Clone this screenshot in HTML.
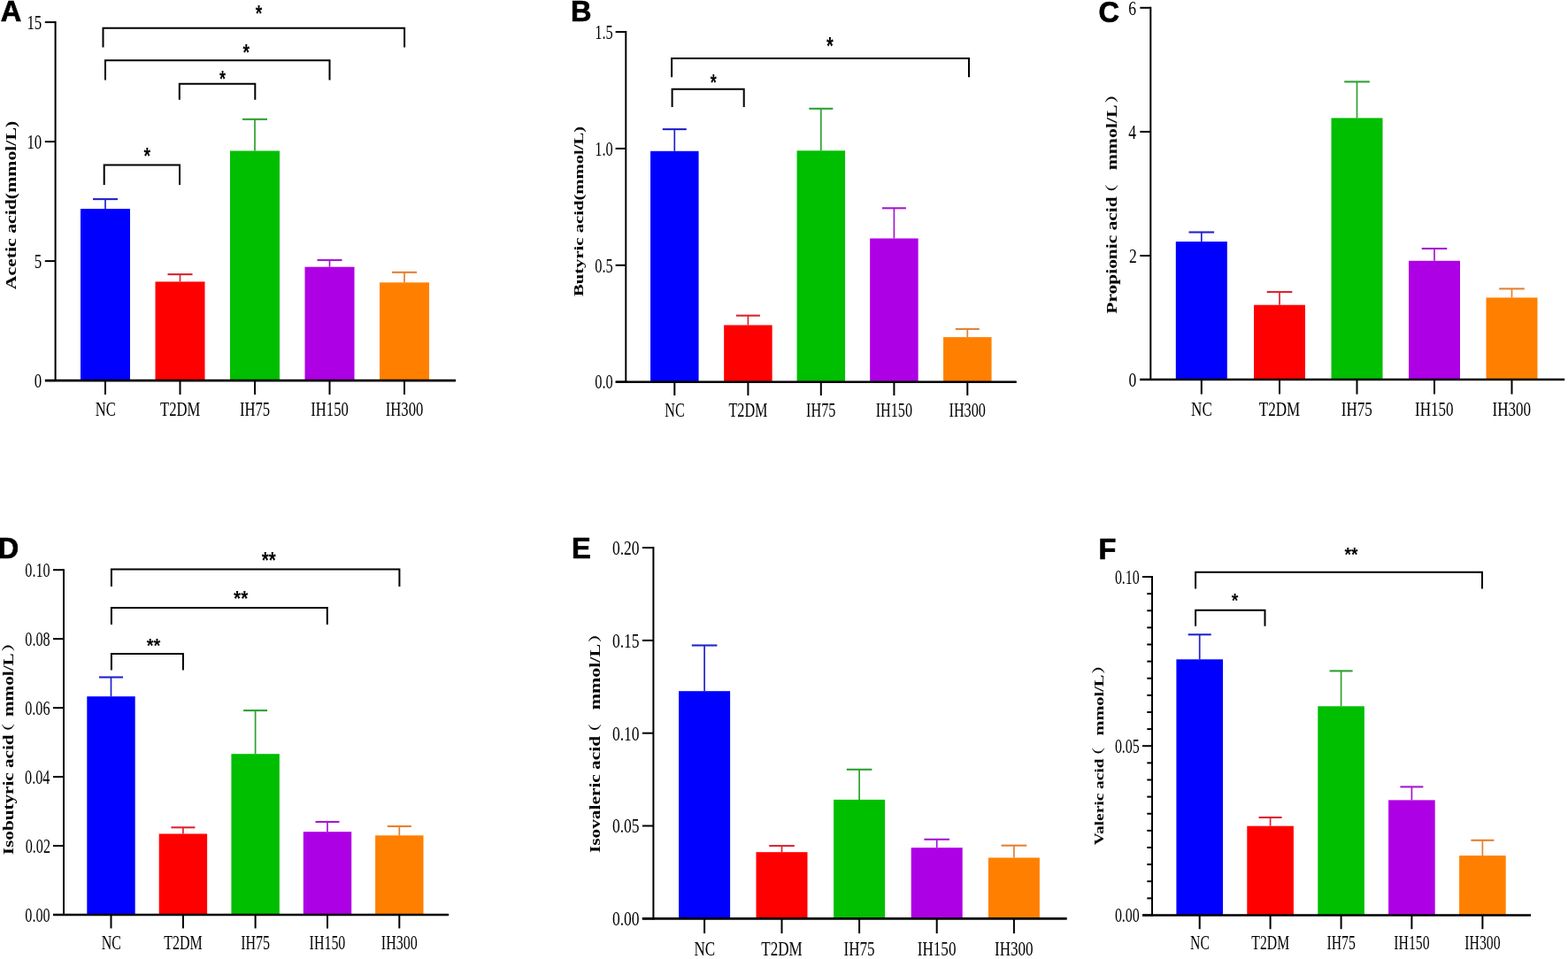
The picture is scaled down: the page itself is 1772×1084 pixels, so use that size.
<!DOCTYPE html>
<html><head><meta charset="utf-8"><title>SCFA bar charts</title>
<style>html,body{margin:0;padding:0;background:#fff;}svg{display:block;}</style></head>
<body><svg width="1772" height="1084" viewBox="0 0 1772 1084" fill="#000">
<rect width="1772" height="1084" fill="#fff"/>
<line x1="62.6" y1="24.1" x2="62.6" y2="431.1" stroke="#000" stroke-width="2" stroke-linecap="butt"/>
<line x1="50.8" y1="25.1" x2="62.6" y2="25.1" stroke="#000" stroke-width="2" stroke-linecap="butt"/>
<line x1="50.8" y1="160.1" x2="62.6" y2="160.1" stroke="#000" stroke-width="2" stroke-linecap="butt"/>
<line x1="50.8" y1="295.1" x2="62.6" y2="295.1" stroke="#000" stroke-width="2" stroke-linecap="butt"/>
<line x1="50.8" y1="430.1" x2="62.6" y2="430.1" stroke="#000" stroke-width="2" stroke-linecap="butt"/>
<rect x="91" y="236" width="56" height="194.1" fill="#0000FF"/>
<line x1="119" y1="225.1" x2="119" y2="236" stroke="#2222CC" stroke-width="1.7" stroke-linecap="butt"/>
<line x1="105" y1="225.1" x2="133" y2="225.1" stroke="#2222CC" stroke-width="2.1" stroke-linecap="butt"/>
<rect x="175.5" y="318.4" width="56" height="111.7" fill="#FF0000"/>
<line x1="203.5" y1="310.1" x2="203.5" y2="318.4" stroke="#DC2430" stroke-width="1.7" stroke-linecap="butt"/>
<line x1="189.5" y1="310.1" x2="217.5" y2="310.1" stroke="#DC2430" stroke-width="2.1" stroke-linecap="butt"/>
<rect x="260" y="170.5" width="56" height="259.6" fill="#00BE00"/>
<line x1="288" y1="134.8" x2="288" y2="170.5" stroke="#2EA032" stroke-width="1.7" stroke-linecap="butt"/>
<line x1="274" y1="134.8" x2="302" y2="134.8" stroke="#2EA032" stroke-width="2.1" stroke-linecap="butt"/>
<rect x="344.5" y="301.7" width="56" height="128.4" fill="#AE00E4"/>
<line x1="372.5" y1="294" x2="372.5" y2="301.7" stroke="#A418D0" stroke-width="1.7" stroke-linecap="butt"/>
<line x1="358.5" y1="294" x2="386.5" y2="294" stroke="#A418D0" stroke-width="2.1" stroke-linecap="butt"/>
<rect x="429" y="319.3" width="56" height="110.8" fill="#FF8000"/>
<line x1="457" y1="307.8" x2="457" y2="319.3" stroke="#E48030" stroke-width="1.7" stroke-linecap="butt"/>
<line x1="443" y1="307.8" x2="471" y2="307.8" stroke="#E48030" stroke-width="2.1" stroke-linecap="butt"/>
<line x1="51" y1="430.1" x2="515" y2="430.1" stroke="#000" stroke-width="2.6" stroke-linecap="butt"/>
<line x1="119" y1="430.1" x2="119" y2="446" stroke="#000" stroke-width="2" stroke-linecap="butt"/>
<line x1="203.5" y1="430.1" x2="203.5" y2="446" stroke="#000" stroke-width="2" stroke-linecap="butt"/>
<line x1="288" y1="430.1" x2="288" y2="446" stroke="#000" stroke-width="2" stroke-linecap="butt"/>
<line x1="372.5" y1="430.1" x2="372.5" y2="446" stroke="#000" stroke-width="2" stroke-linecap="butt"/>
<line x1="457" y1="430.1" x2="457" y2="446" stroke="#000" stroke-width="2" stroke-linecap="butt"/>
<path d="M116.5 53.4V31.7H457.1V53.4" fill="none" stroke="#000" stroke-width="2"/>
<path d="M119 90.4V68.3H372.5V90.4" fill="none" stroke="#000" stroke-width="2"/>
<path d="M202.8 112.7V94.7H288.3V112.7" fill="none" stroke="#000" stroke-width="2"/>
<path d="M117.7 208.9V186.6H203V208.9" fill="none" stroke="#000" stroke-width="2"/>
<text transform="translate(30.38,33.11) scale(0.75,1)" font-family="&quot;Liberation Serif&quot;, &quot;Noto Serif CJK SC&quot;, serif" font-size="22.5">15</text>
<text transform="translate(30.38,168) scale(0.75,1)" font-family="&quot;Liberation Serif&quot;, &quot;Noto Serif CJK SC&quot;, serif" font-size="22.5">10</text>
<text transform="translate(38.83,303) scale(0.75,1)" font-family="&quot;Liberation Serif&quot;, &quot;Noto Serif CJK SC&quot;, serif" font-size="22.5">5</text>
<text transform="translate(38.83,437.89) scale(0.75,1)" font-family="&quot;Liberation Serif&quot;, &quot;Noto Serif CJK SC&quot;, serif" font-size="22.5">0</text>
<text transform="translate(107.73,470) scale(0.74,1)" font-family="&quot;Liberation Serif&quot;, &quot;Noto Serif CJK SC&quot;, serif" font-size="22.5">NC</text>
<text transform="translate(181.05,470) scale(0.74,1)" font-family="&quot;Liberation Serif&quot;, &quot;Noto Serif CJK SC&quot;, serif" font-size="22.5">T2DM</text>
<text transform="translate(270.93,470) scale(0.74,1)" font-family="&quot;Liberation Serif&quot;, &quot;Noto Serif CJK SC&quot;, serif" font-size="22.5">IH75</text>
<text transform="translate(351.29,470) scale(0.74,1)" font-family="&quot;Liberation Serif&quot;, &quot;Noto Serif CJK SC&quot;, serif" font-size="22.5">IH150</text>
<text transform="translate(435.79,470) scale(0.74,1)" font-family="&quot;Liberation Serif&quot;, &quot;Noto Serif CJK SC&quot;, serif" font-size="22.5">IH300</text>
<text transform="translate(17.8,327.32) scale(0.75,1) rotate(-90)" font-family="&quot;Liberation Serif&quot;, &quot;Noto Serif CJK SC&quot;, serif" font-weight="bold" font-size="21.8">Acetic acid(mmol/L)</text>
<text transform="translate(0.8,24.12) scale(1,1)" font-family="&quot;Liberation Sans&quot;, sans-serif" font-weight="bold" font-size="32.5" stroke="#000" stroke-width="0.7">A</text>
<text transform="translate(288.8,23.92) scale(0.75,1)" font-family="&quot;Liberation Sans&quot;, sans-serif" font-weight="bold" font-size="25.68">*</text>
<text transform="translate(274.5,67.89) scale(0.74,1)" font-family="&quot;Liberation Sans&quot;, sans-serif" font-weight="bold" font-size="26.22">*</text>
<text transform="translate(248.1,97.63) scale(0.71,1)" font-family="&quot;Liberation Sans&quot;, sans-serif" font-weight="bold" font-size="25.41">*</text>
<text transform="translate(162.6,184.6) scale(0.75,1)" font-family="&quot;Liberation Sans&quot;, sans-serif" font-weight="bold" font-size="25.95">*</text>
<line x1="707.3" y1="35.1" x2="707.3" y2="432.8" stroke="#000" stroke-width="2" stroke-linecap="butt"/>
<line x1="695.6" y1="36.1" x2="707.3" y2="36.1" stroke="#000" stroke-width="2" stroke-linecap="butt"/>
<line x1="695.6" y1="167.9" x2="707.3" y2="167.9" stroke="#000" stroke-width="2" stroke-linecap="butt"/>
<line x1="695.6" y1="299.8" x2="707.3" y2="299.8" stroke="#000" stroke-width="2" stroke-linecap="butt"/>
<line x1="695.6" y1="431.7" x2="707.3" y2="431.7" stroke="#000" stroke-width="2" stroke-linecap="butt"/>
<rect x="735.05" y="170.8" width="54.5" height="261" fill="#0000FF"/>
<line x1="762.3" y1="146.1" x2="762.3" y2="170.8" stroke="#2222CC" stroke-width="1.7" stroke-linecap="butt"/>
<line x1="748.8" y1="146.1" x2="775.8" y2="146.1" stroke="#2222CC" stroke-width="2.1" stroke-linecap="butt"/>
<rect x="818.15" y="367.5" width="54.5" height="64.3" fill="#FF0000"/>
<line x1="845.4" y1="356.7" x2="845.4" y2="367.5" stroke="#DC2430" stroke-width="1.7" stroke-linecap="butt"/>
<line x1="831.9" y1="356.7" x2="858.9" y2="356.7" stroke="#DC2430" stroke-width="2.1" stroke-linecap="butt"/>
<rect x="900.55" y="170.3" width="54.5" height="261.5" fill="#00BE00"/>
<line x1="927.8" y1="122.8" x2="927.8" y2="170.3" stroke="#2EA032" stroke-width="1.7" stroke-linecap="butt"/>
<line x1="914.3" y1="122.8" x2="941.3" y2="122.8" stroke="#2EA032" stroke-width="2.1" stroke-linecap="butt"/>
<rect x="983.15" y="269.5" width="54.5" height="162.3" fill="#AE00E4"/>
<line x1="1010.4" y1="235.3" x2="1010.4" y2="269.5" stroke="#A418D0" stroke-width="1.7" stroke-linecap="butt"/>
<line x1="996.9" y1="235.3" x2="1023.9" y2="235.3" stroke="#A418D0" stroke-width="2.1" stroke-linecap="butt"/>
<rect x="1066.05" y="381.1" width="54.5" height="50.7" fill="#FF8000"/>
<line x1="1093.3" y1="371.9" x2="1093.3" y2="381.1" stroke="#E48030" stroke-width="1.7" stroke-linecap="butt"/>
<line x1="1079.8" y1="371.9" x2="1106.8" y2="371.9" stroke="#E48030" stroke-width="2.1" stroke-linecap="butt"/>
<line x1="695.8" y1="431.8" x2="1148.8" y2="431.8" stroke="#000" stroke-width="2.6" stroke-linecap="butt"/>
<line x1="762.3" y1="431.8" x2="762.3" y2="447" stroke="#000" stroke-width="2" stroke-linecap="butt"/>
<line x1="845.4" y1="431.8" x2="845.4" y2="447" stroke="#000" stroke-width="2" stroke-linecap="butt"/>
<line x1="927.8" y1="431.8" x2="927.8" y2="447" stroke="#000" stroke-width="2" stroke-linecap="butt"/>
<line x1="1010.4" y1="431.8" x2="1010.4" y2="447" stroke="#000" stroke-width="2" stroke-linecap="butt"/>
<line x1="1093.3" y1="431.8" x2="1093.3" y2="447" stroke="#000" stroke-width="2" stroke-linecap="butt"/>
<path d="M759.1 87.2V66H1095V87.2" fill="none" stroke="#000" stroke-width="2"/>
<path d="M759.6 121V100.7H840.7V121" fill="none" stroke="#000" stroke-width="2"/>
<text transform="translate(672.29,44.11) scale(0.73,1)" font-family="&quot;Liberation Serif&quot;, &quot;Noto Serif CJK SC&quot;, serif" font-size="22.5">1.5</text>
<text transform="translate(672.29,175.8) scale(0.73,1)" font-family="&quot;Liberation Serif&quot;, &quot;Noto Serif CJK SC&quot;, serif" font-size="22.5">1.0</text>
<text transform="translate(672.29,307.59) scale(0.73,1)" font-family="&quot;Liberation Serif&quot;, &quot;Noto Serif CJK SC&quot;, serif" font-size="22.5">0.5</text>
<text transform="translate(672.29,439.49) scale(0.73,1)" font-family="&quot;Liberation Serif&quot;, &quot;Noto Serif CJK SC&quot;, serif" font-size="22.5">0.0</text>
<text transform="translate(751.27,471.3) scale(0.72,1)" font-family="&quot;Liberation Serif&quot;, &quot;Noto Serif CJK SC&quot;, serif" font-size="22.5">NC</text>
<text transform="translate(823.42,471.3) scale(0.72,1)" font-family="&quot;Liberation Serif&quot;, &quot;Noto Serif CJK SC&quot;, serif" font-size="22.5">T2DM</text>
<text transform="translate(911.09,471.3) scale(0.72,1)" font-family="&quot;Liberation Serif&quot;, &quot;Noto Serif CJK SC&quot;, serif" font-size="22.5">IH75</text>
<text transform="translate(989.64,471.3) scale(0.72,1)" font-family="&quot;Liberation Serif&quot;, &quot;Noto Serif CJK SC&quot;, serif" font-size="22.5">IH150</text>
<text transform="translate(1072.54,471.3) scale(0.72,1)" font-family="&quot;Liberation Serif&quot;, &quot;Noto Serif CJK SC&quot;, serif" font-size="22.5">IH300</text>
<text transform="translate(658.6,335.01) scale(0.75,1) rotate(-90)" font-family="&quot;Liberation Serif&quot;, &quot;Noto Serif CJK SC&quot;, serif" font-weight="bold" font-size="20.67">Butyric acid(mmol/L)</text>
<text transform="translate(645.06,24.01) scale(1,1)" font-family="&quot;Liberation Sans&quot;, sans-serif" font-weight="bold" font-size="32.5" stroke="#000" stroke-width="0.7">B</text>
<text transform="translate(933.9,60.75) scale(0.74,1)" font-family="&quot;Liberation Sans&quot;, sans-serif" font-weight="bold" font-size="27.03">*</text>
<text transform="translate(802.7,101.54) scale(0.72,1)" font-family="&quot;Liberation Sans&quot;, sans-serif" font-weight="bold" font-size="25.14">*</text>
<line x1="1300.3" y1="7.8" x2="1300.3" y2="430" stroke="#000" stroke-width="2" stroke-linecap="butt"/>
<line x1="1288.3" y1="8.8" x2="1300.3" y2="8.8" stroke="#000" stroke-width="2" stroke-linecap="butt"/>
<line x1="1288.3" y1="148.9" x2="1300.3" y2="148.9" stroke="#000" stroke-width="2" stroke-linecap="butt"/>
<line x1="1288.3" y1="289" x2="1300.3" y2="289" stroke="#000" stroke-width="2" stroke-linecap="butt"/>
<line x1="1288.3" y1="429" x2="1300.3" y2="429" stroke="#000" stroke-width="2" stroke-linecap="butt"/>
<rect x="1328.8" y="273.1" width="58" height="155.9" fill="#0000FF"/>
<line x1="1357.8" y1="262.5" x2="1357.8" y2="273.1" stroke="#2222CC" stroke-width="1.7" stroke-linecap="butt"/>
<line x1="1343.5" y1="262.5" x2="1372.1" y2="262.5" stroke="#2222CC" stroke-width="2.1" stroke-linecap="butt"/>
<rect x="1417" y="344.7" width="58" height="84.3" fill="#FF0000"/>
<line x1="1446" y1="330" x2="1446" y2="344.7" stroke="#DC2430" stroke-width="1.7" stroke-linecap="butt"/>
<line x1="1431.7" y1="330" x2="1460.3" y2="330" stroke="#DC2430" stroke-width="2.1" stroke-linecap="butt"/>
<rect x="1504.5" y="133.4" width="58" height="295.6" fill="#00BE00"/>
<line x1="1533.5" y1="92.4" x2="1533.5" y2="133.4" stroke="#2EA032" stroke-width="1.7" stroke-linecap="butt"/>
<line x1="1519.2" y1="92.4" x2="1547.8" y2="92.4" stroke="#2EA032" stroke-width="2.1" stroke-linecap="butt"/>
<rect x="1592" y="294.8" width="58" height="134.2" fill="#AE00E4"/>
<line x1="1621" y1="281" x2="1621" y2="294.8" stroke="#A418D0" stroke-width="1.7" stroke-linecap="butt"/>
<line x1="1606.7" y1="281" x2="1635.3" y2="281" stroke="#A418D0" stroke-width="2.1" stroke-linecap="butt"/>
<rect x="1679.5" y="336.4" width="58" height="92.6" fill="#FF8000"/>
<line x1="1708.5" y1="326.4" x2="1708.5" y2="336.4" stroke="#E48030" stroke-width="1.7" stroke-linecap="butt"/>
<line x1="1694.2" y1="326.4" x2="1722.8" y2="326.4" stroke="#E48030" stroke-width="2.1" stroke-linecap="butt"/>
<line x1="1288.2" y1="429" x2="1768.2" y2="429" stroke="#000" stroke-width="2.6" stroke-linecap="butt"/>
<line x1="1357.8" y1="429" x2="1357.8" y2="445.6" stroke="#000" stroke-width="2" stroke-linecap="butt"/>
<line x1="1446" y1="429" x2="1446" y2="445.6" stroke="#000" stroke-width="2" stroke-linecap="butt"/>
<line x1="1533.5" y1="429" x2="1533.5" y2="445.6" stroke="#000" stroke-width="2" stroke-linecap="butt"/>
<line x1="1621" y1="429" x2="1621" y2="445.6" stroke="#000" stroke-width="2" stroke-linecap="butt"/>
<line x1="1708.5" y1="429" x2="1708.5" y2="445.6" stroke="#000" stroke-width="2" stroke-linecap="butt"/>
<text transform="translate(1275.36,16.59) scale(0.78,1)" font-family="&quot;Liberation Serif&quot;, &quot;Noto Serif CJK SC&quot;, serif" font-size="22.5">6</text>
<text transform="translate(1275.19,156.91) scale(0.78,1)" font-family="&quot;Liberation Serif&quot;, &quot;Noto Serif CJK SC&quot;, serif" font-size="22.5">4</text>
<text transform="translate(1275.89,297.01) scale(0.78,1)" font-family="&quot;Liberation Serif&quot;, &quot;Noto Serif CJK SC&quot;, serif" font-size="22.5">2</text>
<text transform="translate(1275.54,436.79) scale(0.78,1)" font-family="&quot;Liberation Serif&quot;, &quot;Noto Serif CJK SC&quot;, serif" font-size="22.5">0</text>
<text transform="translate(1346.11,470.2) scale(0.76,1)" font-family="&quot;Liberation Serif&quot;, &quot;Noto Serif CJK SC&quot;, serif" font-size="22.5">NC</text>
<text transform="translate(1422.7,470.2) scale(0.76,1)" font-family="&quot;Liberation Serif&quot;, &quot;Noto Serif CJK SC&quot;, serif" font-size="22.5">T2DM</text>
<text transform="translate(1515.79,470.2) scale(0.76,1)" font-family="&quot;Liberation Serif&quot;, &quot;Noto Serif CJK SC&quot;, serif" font-size="22.5">IH75</text>
<text transform="translate(1598.99,470.2) scale(0.76,1)" font-family="&quot;Liberation Serif&quot;, &quot;Noto Serif CJK SC&quot;, serif" font-size="22.5">IH150</text>
<text transform="translate(1686.49,470.2) scale(0.76,1)" font-family="&quot;Liberation Serif&quot;, &quot;Noto Serif CJK SC&quot;, serif" font-size="22.5">IH300</text>
<text transform="translate(1261.9,354.63) scale(0.75,1) rotate(-90)" font-family="&quot;Liberation Serif&quot;, &quot;Noto Serif CJK SC&quot;, serif" font-weight="bold" font-size="21.43">Propionic acid</text>
<text transform="translate(1261.9,227.9) scale(0.75,1) rotate(-90)" font-family="&quot;Liberation Serif&quot;, &quot;Noto Serif CJK SC&quot;, serif" font-weight="bold" font-size="20">（</text>
<text transform="translate(1261.9,192.36) scale(0.75,1) rotate(-90) scale(1.02,1)" font-family="&quot;Liberation Serif&quot;, &quot;Noto Serif CJK SC&quot;, serif" font-weight="bold" font-size="21.43">mmol/L</text>
<text transform="translate(1261.9,116.75) scale(0.75,1) rotate(-90)" font-family="&quot;Liberation Serif&quot;, &quot;Noto Serif CJK SC&quot;, serif" font-weight="bold" font-size="20">）</text>
<text transform="translate(1241.54,24.56) scale(1,1)" font-family="&quot;Liberation Sans&quot;, sans-serif" font-weight="bold" font-size="32.5" stroke="#000" stroke-width="0.7">C</text>
<line x1="72" y1="643.2" x2="72" y2="1035" stroke="#000" stroke-width="2" stroke-linecap="butt"/>
<line x1="60" y1="644.2" x2="72" y2="644.2" stroke="#000" stroke-width="2" stroke-linecap="butt"/>
<line x1="60" y1="722.16" x2="72" y2="722.16" stroke="#000" stroke-width="2" stroke-linecap="butt"/>
<line x1="60" y1="800.12" x2="72" y2="800.12" stroke="#000" stroke-width="2" stroke-linecap="butt"/>
<line x1="60" y1="878.08" x2="72" y2="878.08" stroke="#000" stroke-width="2" stroke-linecap="butt"/>
<line x1="60" y1="956.04" x2="72" y2="956.04" stroke="#000" stroke-width="2" stroke-linecap="butt"/>
<line x1="60" y1="1034" x2="72" y2="1034" stroke="#000" stroke-width="2" stroke-linecap="butt"/>
<rect x="98.3" y="787.2" width="54.4" height="246.8" fill="#0000FF"/>
<line x1="125.5" y1="765.5" x2="125.5" y2="787.2" stroke="#2222CC" stroke-width="1.7" stroke-linecap="butt"/>
<line x1="112" y1="765.5" x2="139" y2="765.5" stroke="#2222CC" stroke-width="2.1" stroke-linecap="butt"/>
<rect x="179.7" y="942.5" width="54.4" height="91.5" fill="#FF0000"/>
<line x1="206.9" y1="935.3" x2="206.9" y2="942.5" stroke="#DC2430" stroke-width="1.7" stroke-linecap="butt"/>
<line x1="193.4" y1="935.3" x2="220.4" y2="935.3" stroke="#DC2430" stroke-width="2.1" stroke-linecap="butt"/>
<rect x="261.4" y="852.2" width="54.4" height="181.8" fill="#00BE00"/>
<line x1="288.6" y1="803.1" x2="288.6" y2="852.2" stroke="#2EA032" stroke-width="1.7" stroke-linecap="butt"/>
<line x1="275.1" y1="803.1" x2="302.1" y2="803.1" stroke="#2EA032" stroke-width="2.1" stroke-linecap="butt"/>
<rect x="342.8" y="940.2" width="54.4" height="93.8" fill="#AE00E4"/>
<line x1="370" y1="929" x2="370" y2="940.2" stroke="#A418D0" stroke-width="1.7" stroke-linecap="butt"/>
<line x1="356.5" y1="929" x2="383.5" y2="929" stroke="#A418D0" stroke-width="2.1" stroke-linecap="butt"/>
<rect x="424.1" y="944.3" width="54.4" height="89.7" fill="#FF8000"/>
<line x1="451.3" y1="934" x2="451.3" y2="944.3" stroke="#E48030" stroke-width="1.7" stroke-linecap="butt"/>
<line x1="437.8" y1="934" x2="464.8" y2="934" stroke="#E48030" stroke-width="2.1" stroke-linecap="butt"/>
<line x1="60.2" y1="1034" x2="507.1" y2="1034" stroke="#000" stroke-width="2.6" stroke-linecap="butt"/>
<line x1="125.5" y1="1034" x2="125.5" y2="1049.4" stroke="#000" stroke-width="2" stroke-linecap="butt"/>
<line x1="206.9" y1="1034" x2="206.9" y2="1049.4" stroke="#000" stroke-width="2" stroke-linecap="butt"/>
<line x1="288.6" y1="1034" x2="288.6" y2="1049.4" stroke="#000" stroke-width="2" stroke-linecap="butt"/>
<line x1="370" y1="1034" x2="370" y2="1049.4" stroke="#000" stroke-width="2" stroke-linecap="butt"/>
<line x1="451.3" y1="1034" x2="451.3" y2="1049.4" stroke="#000" stroke-width="2" stroke-linecap="butt"/>
<path d="M125.9 663V643.5H451.4V663" fill="none" stroke="#000" stroke-width="2"/>
<path d="M125.9 706.1V687H369.8V706.1" fill="none" stroke="#000" stroke-width="2"/>
<path d="M125.9 757.5V739.1H206.9V757.5" fill="none" stroke="#000" stroke-width="2"/>
<text transform="translate(28.37,652.1) scale(0.72,1)" font-family="&quot;Liberation Serif&quot;, &quot;Noto Serif CJK SC&quot;, serif" font-size="22.5">0.10</text>
<text transform="translate(28.37,729.95) scale(0.72,1)" font-family="&quot;Liberation Serif&quot;, &quot;Noto Serif CJK SC&quot;, serif" font-size="22.5">0.08</text>
<text transform="translate(28.2,807.91) scale(0.72,1)" font-family="&quot;Liberation Serif&quot;, &quot;Noto Serif CJK SC&quot;, serif" font-size="22.5">0.06</text>
<text transform="translate(28.04,885.87) scale(0.72,1)" font-family="&quot;Liberation Serif&quot;, &quot;Noto Serif CJK SC&quot;, serif" font-size="22.5">0.04</text>
<text transform="translate(28.69,963.83) scale(0.72,1)" font-family="&quot;Liberation Serif&quot;, &quot;Noto Serif CJK SC&quot;, serif" font-size="22.5">0.02</text>
<text transform="translate(28.37,1041.79) scale(0.72,1)" font-family="&quot;Liberation Serif&quot;, &quot;Noto Serif CJK SC&quot;, serif" font-size="22.5">0.00</text>
<text transform="translate(114.64,1072.8) scale(0.71,1)" font-family="&quot;Liberation Serif&quot;, &quot;Noto Serif CJK SC&quot;, serif" font-size="22.5">NC</text>
<text transform="translate(185.26,1072.8) scale(0.71,1)" font-family="&quot;Liberation Serif&quot;, &quot;Noto Serif CJK SC&quot;, serif" font-size="22.5">T2DM</text>
<text transform="translate(272.15,1072.8) scale(0.71,1)" font-family="&quot;Liberation Serif&quot;, &quot;Noto Serif CJK SC&quot;, serif" font-size="22.5">IH75</text>
<text transform="translate(349.56,1072.8) scale(0.71,1)" font-family="&quot;Liberation Serif&quot;, &quot;Noto Serif CJK SC&quot;, serif" font-size="22.5">IH150</text>
<text transform="translate(430.86,1072.8) scale(0.71,1)" font-family="&quot;Liberation Serif&quot;, &quot;Noto Serif CJK SC&quot;, serif" font-size="22.5">IH300</text>
<text transform="translate(15,966.13) scale(0.75,1) rotate(-90)" font-family="&quot;Liberation Serif&quot;, &quot;Noto Serif CJK SC&quot;, serif" font-weight="bold" font-size="21.16">Isobutyric acid</text>
<text transform="translate(15,837.55) scale(0.75,1) rotate(-90)" font-family="&quot;Liberation Serif&quot;, &quot;Noto Serif CJK SC&quot;, serif" font-weight="bold" font-size="20">（</text>
<text transform="translate(15,810.04) scale(0.75,1) rotate(-90) scale(1,1)" font-family="&quot;Liberation Serif&quot;, &quot;Noto Serif CJK SC&quot;, serif" font-weight="bold" font-size="21.16">mmol/L</text>
<text transform="translate(15,736.75) scale(0.75,1) rotate(-90)" font-family="&quot;Liberation Serif&quot;, &quot;Noto Serif CJK SC&quot;, serif" font-weight="bold" font-size="20">）</text>
<text transform="translate(-2.19,631.46) scale(1,1)" font-family="&quot;Liberation Sans&quot;, sans-serif" font-weight="bold" font-size="32.5" stroke="#000" stroke-width="0.7">D</text>
<text transform="translate(295.7,641.72) scale(0.8,1)" font-family="&quot;Liberation Sans&quot;, sans-serif" font-weight="bold" font-size="25.68">**</text>
<text transform="translate(264.1,684.78) scale(0.85,1)" font-family="&quot;Liberation Sans&quot;, sans-serif" font-weight="bold" font-size="24.32">**</text>
<text transform="translate(165.7,736.53) scale(0.94,1)" font-family="&quot;Liberation Sans&quot;, sans-serif" font-weight="bold" font-size="21.35">**</text>
<line x1="738.4" y1="618.1" x2="738.4" y2="1039.4" stroke="#000" stroke-width="2" stroke-linecap="butt"/>
<line x1="725.9" y1="619.1" x2="738.4" y2="619.1" stroke="#000" stroke-width="2" stroke-linecap="butt"/>
<line x1="725.9" y1="723.9" x2="738.4" y2="723.9" stroke="#000" stroke-width="2" stroke-linecap="butt"/>
<line x1="725.9" y1="828.7" x2="738.4" y2="828.7" stroke="#000" stroke-width="2" stroke-linecap="butt"/>
<line x1="725.9" y1="933.5" x2="738.4" y2="933.5" stroke="#000" stroke-width="2" stroke-linecap="butt"/>
<line x1="725.9" y1="1038.3" x2="738.4" y2="1038.3" stroke="#000" stroke-width="2" stroke-linecap="butt"/>
<rect x="767.1" y="781.2" width="58" height="257.2" fill="#0000FF"/>
<line x1="796.1" y1="729.5" x2="796.1" y2="781.2" stroke="#2222CC" stroke-width="1.7" stroke-linecap="butt"/>
<line x1="781.8" y1="729.5" x2="810.4" y2="729.5" stroke="#2222CC" stroke-width="2.1" stroke-linecap="butt"/>
<rect x="854.5" y="963.2" width="58" height="75.2" fill="#FF0000"/>
<line x1="883.5" y1="956.1" x2="883.5" y2="963.2" stroke="#DC2430" stroke-width="1.7" stroke-linecap="butt"/>
<line x1="869.2" y1="956.1" x2="897.8" y2="956.1" stroke="#DC2430" stroke-width="2.1" stroke-linecap="butt"/>
<rect x="942.1" y="903.9" width="58" height="134.5" fill="#00BE00"/>
<line x1="971.1" y1="869.8" x2="971.1" y2="903.9" stroke="#2EA032" stroke-width="1.7" stroke-linecap="butt"/>
<line x1="956.8" y1="869.8" x2="985.4" y2="869.8" stroke="#2EA032" stroke-width="2.1" stroke-linecap="butt"/>
<rect x="1029.7" y="958.2" width="58" height="80.2" fill="#AE00E4"/>
<line x1="1058.7" y1="948.8" x2="1058.7" y2="958.2" stroke="#A418D0" stroke-width="1.7" stroke-linecap="butt"/>
<line x1="1044.4" y1="948.8" x2="1073" y2="948.8" stroke="#A418D0" stroke-width="2.1" stroke-linecap="butt"/>
<rect x="1116.9" y="969.5" width="58" height="68.9" fill="#FF8000"/>
<line x1="1145.9" y1="955.7" x2="1145.9" y2="969.5" stroke="#E48030" stroke-width="1.7" stroke-linecap="butt"/>
<line x1="1131.6" y1="955.7" x2="1160.2" y2="955.7" stroke="#E48030" stroke-width="2.1" stroke-linecap="butt"/>
<line x1="725.8" y1="1038.4" x2="1205.7" y2="1038.4" stroke="#000" stroke-width="2.6" stroke-linecap="butt"/>
<line x1="796.1" y1="1038.4" x2="796.1" y2="1055.1" stroke="#000" stroke-width="2" stroke-linecap="butt"/>
<line x1="883.5" y1="1038.4" x2="883.5" y2="1055.1" stroke="#000" stroke-width="2" stroke-linecap="butt"/>
<line x1="971.1" y1="1038.4" x2="971.1" y2="1055.1" stroke="#000" stroke-width="2" stroke-linecap="butt"/>
<line x1="1058.7" y1="1038.4" x2="1058.7" y2="1055.1" stroke="#000" stroke-width="2" stroke-linecap="butt"/>
<line x1="1145.9" y1="1038.4" x2="1145.9" y2="1055.1" stroke="#000" stroke-width="2" stroke-linecap="butt"/>
<text transform="translate(691.95,626.89) scale(0.78,1)" font-family="&quot;Liberation Serif&quot;, &quot;Noto Serif CJK SC&quot;, serif" font-size="22.5">0.20</text>
<text transform="translate(691.95,731.8) scale(0.78,1)" font-family="&quot;Liberation Serif&quot;, &quot;Noto Serif CJK SC&quot;, serif" font-size="22.5">0.15</text>
<text transform="translate(691.95,836.6) scale(0.78,1)" font-family="&quot;Liberation Serif&quot;, &quot;Noto Serif CJK SC&quot;, serif" font-size="22.5">0.10</text>
<text transform="translate(691.95,941.29) scale(0.78,1)" font-family="&quot;Liberation Serif&quot;, &quot;Noto Serif CJK SC&quot;, serif" font-size="22.5">0.05</text>
<text transform="translate(691.95,1046.09) scale(0.78,1)" font-family="&quot;Liberation Serif&quot;, &quot;Noto Serif CJK SC&quot;, serif" font-size="22.5">0.00</text>
<text transform="translate(784.45,1079.8) scale(0.76,1)" font-family="&quot;Liberation Serif&quot;, &quot;Noto Serif CJK SC&quot;, serif" font-size="22.5">NC</text>
<text transform="translate(860.29,1079.8) scale(0.76,1)" font-family="&quot;Liberation Serif&quot;, &quot;Noto Serif CJK SC&quot;, serif" font-size="22.5">T2DM</text>
<text transform="translate(953.46,1079.8) scale(0.76,1)" font-family="&quot;Liberation Serif&quot;, &quot;Noto Serif CJK SC&quot;, serif" font-size="22.5">IH75</text>
<text transform="translate(1036.78,1079.8) scale(0.76,1)" font-family="&quot;Liberation Serif&quot;, &quot;Noto Serif CJK SC&quot;, serif" font-size="22.5">IH150</text>
<text transform="translate(1123.98,1079.8) scale(0.76,1)" font-family="&quot;Liberation Serif&quot;, &quot;Noto Serif CJK SC&quot;, serif" font-size="22.5">IH300</text>
<text transform="translate(678.3,964.04) scale(0.75,1) rotate(-90)" font-family="&quot;Liberation Serif&quot;, &quot;Noto Serif CJK SC&quot;, serif" font-weight="bold" font-size="21.33">Isovaleric acid</text>
<text transform="translate(678.3,837.75) scale(0.75,1) rotate(-90)" font-family="&quot;Liberation Serif&quot;, &quot;Noto Serif CJK SC&quot;, serif" font-weight="bold" font-size="20">（</text>
<text transform="translate(678.3,802.36) scale(0.75,1) rotate(-90) scale(1.03,1)" font-family="&quot;Liberation Serif&quot;, &quot;Noto Serif CJK SC&quot;, serif" font-weight="bold" font-size="21.33">mmol/L</text>
<text transform="translate(678.3,726.4) scale(0.75,1) rotate(-90)" font-family="&quot;Liberation Serif&quot;, &quot;Noto Serif CJK SC&quot;, serif" font-weight="bold" font-size="20">）</text>
<text transform="translate(646.02,631.21) scale(1,1)" font-family="&quot;Liberation Sans&quot;, sans-serif" font-weight="bold" font-size="32.5" stroke="#000" stroke-width="0.7">E</text>
<line x1="1302" y1="651" x2="1302" y2="1035.5" stroke="#000" stroke-width="2" stroke-linecap="butt"/>
<line x1="1291" y1="652" x2="1302" y2="652" stroke="#000" stroke-width="2" stroke-linecap="butt"/>
<line x1="1291" y1="843.2" x2="1302" y2="843.2" stroke="#000" stroke-width="2" stroke-linecap="butt"/>
<line x1="1291" y1="1034.5" x2="1302" y2="1034.5" stroke="#000" stroke-width="2" stroke-linecap="butt"/>
<line x1="1296.3" y1="671.12" x2="1302" y2="671.12" stroke="#000" stroke-width="2" stroke-linecap="butt"/>
<line x1="1296.3" y1="690.25" x2="1302" y2="690.25" stroke="#000" stroke-width="2" stroke-linecap="butt"/>
<line x1="1296.3" y1="709.38" x2="1302" y2="709.38" stroke="#000" stroke-width="2" stroke-linecap="butt"/>
<line x1="1296.3" y1="728.5" x2="1302" y2="728.5" stroke="#000" stroke-width="2" stroke-linecap="butt"/>
<line x1="1296.3" y1="747.62" x2="1302" y2="747.62" stroke="#000" stroke-width="2" stroke-linecap="butt"/>
<line x1="1296.3" y1="766.75" x2="1302" y2="766.75" stroke="#000" stroke-width="2" stroke-linecap="butt"/>
<line x1="1296.3" y1="785.88" x2="1302" y2="785.88" stroke="#000" stroke-width="2" stroke-linecap="butt"/>
<line x1="1296.3" y1="805" x2="1302" y2="805" stroke="#000" stroke-width="2" stroke-linecap="butt"/>
<line x1="1296.3" y1="824.12" x2="1302" y2="824.12" stroke="#000" stroke-width="2" stroke-linecap="butt"/>
<line x1="1296.3" y1="862.38" x2="1302" y2="862.38" stroke="#000" stroke-width="2" stroke-linecap="butt"/>
<line x1="1296.3" y1="881.5" x2="1302" y2="881.5" stroke="#000" stroke-width="2" stroke-linecap="butt"/>
<line x1="1296.3" y1="900.62" x2="1302" y2="900.62" stroke="#000" stroke-width="2" stroke-linecap="butt"/>
<line x1="1296.3" y1="919.75" x2="1302" y2="919.75" stroke="#000" stroke-width="2" stroke-linecap="butt"/>
<line x1="1296.3" y1="938.88" x2="1302" y2="938.88" stroke="#000" stroke-width="2" stroke-linecap="butt"/>
<line x1="1296.3" y1="958" x2="1302" y2="958" stroke="#000" stroke-width="2" stroke-linecap="butt"/>
<line x1="1296.3" y1="977.12" x2="1302" y2="977.12" stroke="#000" stroke-width="2" stroke-linecap="butt"/>
<line x1="1296.3" y1="996.25" x2="1302" y2="996.25" stroke="#000" stroke-width="2" stroke-linecap="butt"/>
<line x1="1296.3" y1="1015.38" x2="1302" y2="1015.38" stroke="#000" stroke-width="2" stroke-linecap="butt"/>
<rect x="1329.4" y="745.3" width="52.6" height="289.2" fill="#0000FF"/>
<line x1="1355.7" y1="717.3" x2="1355.7" y2="745.3" stroke="#2222CC" stroke-width="1.7" stroke-linecap="butt"/>
<line x1="1342.7" y1="717.3" x2="1368.7" y2="717.3" stroke="#2222CC" stroke-width="2.1" stroke-linecap="butt"/>
<rect x="1409.3" y="933.7" width="52.6" height="100.8" fill="#FF0000"/>
<line x1="1435.6" y1="924" x2="1435.6" y2="933.7" stroke="#DC2430" stroke-width="1.7" stroke-linecap="butt"/>
<line x1="1422.6" y1="924" x2="1448.6" y2="924" stroke="#DC2430" stroke-width="2.1" stroke-linecap="butt"/>
<rect x="1489.3" y="798.3" width="52.6" height="236.2" fill="#00BE00"/>
<line x1="1515.6" y1="758.4" x2="1515.6" y2="798.3" stroke="#2EA032" stroke-width="1.7" stroke-linecap="butt"/>
<line x1="1502.6" y1="758.4" x2="1528.6" y2="758.4" stroke="#2EA032" stroke-width="2.1" stroke-linecap="butt"/>
<rect x="1569.1" y="904.4" width="52.6" height="130.1" fill="#AE00E4"/>
<line x1="1595.4" y1="889.4" x2="1595.4" y2="904.4" stroke="#A418D0" stroke-width="1.7" stroke-linecap="butt"/>
<line x1="1582.4" y1="889.4" x2="1608.4" y2="889.4" stroke="#A418D0" stroke-width="2.1" stroke-linecap="butt"/>
<rect x="1649.1" y="967.1" width="52.6" height="67.4" fill="#FF8000"/>
<line x1="1675.4" y1="949.8" x2="1675.4" y2="967.1" stroke="#E48030" stroke-width="1.7" stroke-linecap="butt"/>
<line x1="1662.4" y1="949.8" x2="1688.4" y2="949.8" stroke="#E48030" stroke-width="2.1" stroke-linecap="butt"/>
<line x1="1291.2" y1="1034.5" x2="1730.1" y2="1034.5" stroke="#000" stroke-width="2.6" stroke-linecap="butt"/>
<line x1="1355.7" y1="1034.5" x2="1355.7" y2="1050.2" stroke="#000" stroke-width="2" stroke-linecap="butt"/>
<line x1="1435.6" y1="1034.5" x2="1435.6" y2="1050.2" stroke="#000" stroke-width="2" stroke-linecap="butt"/>
<line x1="1515.6" y1="1034.5" x2="1515.6" y2="1050.2" stroke="#000" stroke-width="2" stroke-linecap="butt"/>
<line x1="1595.4" y1="1034.5" x2="1595.4" y2="1050.2" stroke="#000" stroke-width="2" stroke-linecap="butt"/>
<line x1="1675.4" y1="1034.5" x2="1675.4" y2="1050.2" stroke="#000" stroke-width="2" stroke-linecap="butt"/>
<path d="M1351.1 665.5V646.7H1675V665.5" fill="none" stroke="#000" stroke-width="2"/>
<path d="M1351.1 707.8V689.7H1429.5V707.8" fill="none" stroke="#000" stroke-width="2"/>
<text transform="translate(1259.89,659.9) scale(0.71,1)" font-family="&quot;Liberation Serif&quot;, &quot;Noto Serif CJK SC&quot;, serif" font-size="22.5">0.10</text>
<text transform="translate(1259.89,850.99) scale(0.71,1)" font-family="&quot;Liberation Serif&quot;, &quot;Noto Serif CJK SC&quot;, serif" font-size="22.5">0.05</text>
<text transform="translate(1259.89,1042.29) scale(0.71,1)" font-family="&quot;Liberation Serif&quot;, &quot;Noto Serif CJK SC&quot;, serif" font-size="22.5">0.00</text>
<text transform="translate(1345.05,1072.9) scale(0.7,1)" font-family="&quot;Liberation Serif&quot;, &quot;Noto Serif CJK SC&quot;, serif" font-size="22.5">NC</text>
<text transform="translate(1414.37,1072.9) scale(0.7,1)" font-family="&quot;Liberation Serif&quot;, &quot;Noto Serif CJK SC&quot;, serif" font-size="22.5">T2DM</text>
<text transform="translate(1499.46,1072.9) scale(0.7,1)" font-family="&quot;Liberation Serif&quot;, &quot;Noto Serif CJK SC&quot;, serif" font-size="22.5">IH75</text>
<text transform="translate(1575.35,1072.9) scale(0.7,1)" font-family="&quot;Liberation Serif&quot;, &quot;Noto Serif CJK SC&quot;, serif" font-size="22.5">IH150</text>
<text transform="translate(1655.35,1072.9) scale(0.7,1)" font-family="&quot;Liberation Serif&quot;, &quot;Noto Serif CJK SC&quot;, serif" font-size="22.5">IH300</text>
<text transform="translate(1247,955.19) scale(0.75,1) rotate(-90)" font-family="&quot;Liberation Serif&quot;, &quot;Noto Serif CJK SC&quot;, serif" font-weight="bold" font-size="19.36">Valeric acid</text>
<text transform="translate(1247,864.2) scale(0.75,1) rotate(-90)" font-family="&quot;Liberation Serif&quot;, &quot;Noto Serif CJK SC&quot;, serif" font-weight="bold" font-size="20">（</text>
<text transform="translate(1247,831.51) scale(0.75,1) rotate(-90) scale(1.05,1)" font-family="&quot;Liberation Serif&quot;, &quot;Noto Serif CJK SC&quot;, serif" font-weight="bold" font-size="19.36">mmol/L</text>
<text transform="translate(1247,762.1) scale(0.75,1) rotate(-90)" font-family="&quot;Liberation Serif&quot;, &quot;Noto Serif CJK SC&quot;, serif" font-weight="bold" font-size="20">）</text>
<text transform="translate(1241.4,631.71) scale(1,1)" font-family="&quot;Liberation Sans&quot;, sans-serif" font-weight="bold" font-size="32.5" stroke="#000" stroke-width="0.7">F</text>
<text transform="translate(1519.4,634.18) scale(0.86,1)" font-family="&quot;Liberation Sans&quot;, sans-serif" font-weight="bold" font-size="22.43">**</text>
<text transform="translate(1391.8,686.32) scale(0.9,1)" font-family="&quot;Liberation Sans&quot;, sans-serif" font-weight="bold" font-size="21.62">*</text>
</svg></body></html>
